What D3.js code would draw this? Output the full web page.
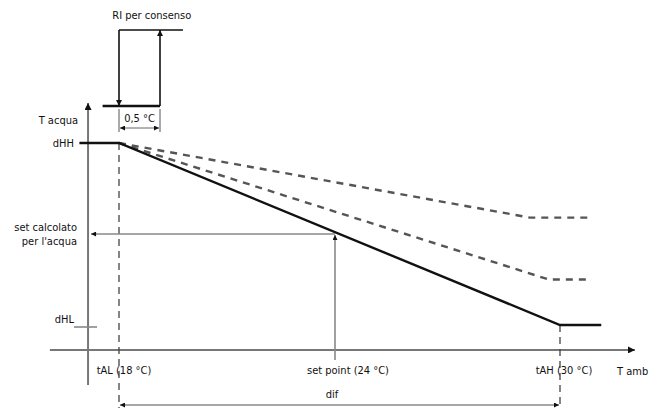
<!DOCTYPE html>
<html>
<head>
<meta charset="utf-8">
<script src="https://cdn.jsdelivr.net/npm/d3@7"></script>
<style>
body { margin: 0; background: #fff; }
text { font-family: "Liberation Sans Narrow", "DejaVu Sans Condensed", sans-serif; font-size: 11px; fill: #111; }
</style>
</head>
<body>
<svg id="chart" width="664" height="409"></svg>
<script>
// ambient temperature breakpoints (°C) and their labels
const ambTicks = [18, 24, 30]
const ambLabels = ["tAL (18 °C)", "set point (24 °C)", "tAH (30 °C)"]
// water setpoint levels: 1 = dHH, 0 = dHL
const waterTicks = [1, 0.5, 0]
const waterLabels = [["dHH"], ["set calcolato", "per l'acqua"], ["dHL"]]
// curves as [T amb, level]
const mainCurve = [[16.9, 1], [18, 1], [30, 0], [31.1, 0]]
const dashedHigh = [[18, 1], [29.2, 0.59], [30.8, 0.59]]
const dashedLow = [[18, 1], [29.7, 0.25], [30.85, 0.25]]
// relay "RI per consenso": [delta °C, state]
const relayOff = [[-0.2, 0], [0.5, 0]]
const relayOn = [[0, 1], [0.78, 1]]
const relayDown = [[0, 1], [0, 0]]
const relayUp = [[0.5, 0], [0.5, 1]]
const hystLabel = "0,5 °C"

const svg = d3.select("#chart")

const x = d3.scaleLinear().domain(ambTicks).range([119, 335, 560])
const y = d3.scaleLinear().domain([0, 1]).range([325, 143])
const hx = d3.scaleLinear().domain([0, 0.5]).range([119, 160])
const hy = d3.scaleLinear().domain([0, 1]).range([106, 30])

const defs = svg.append("defs")
function marker(id, w, l) {
    defs.append("marker")
        .attr("id", id)
        .attr("markerUnits", "userSpaceOnUse")
        .attr("viewBox", "0 0 10 10")
        .attr("refX", 10).attr("refY", 5)
        .attr("markerWidth", l).attr("markerHeight", w)
        .attr("orient", "auto-start-reverse")
        .append("path")
        .attr("d", "M0,0 L10,5 L0,10 z")
        .attr("fill", "#111")
}
marker("big", 7, 11)
marker("mid", 6, 9)
marker("small", 5, 7)

const line = d3.line().x(d => x(d[0])).y(d => y(d[1]))
const hline = d3.line().x(d => hx(d[0])).y(d => hy(d[1]))

// axes
svg.append("line")
    .attr("x1", x(16.08)).attr("x2", x(32))
    .attr("y1", y(-0.137)).attr("y2", y(-0.137))
    .attr("stroke", "#777").attr("stroke-width", 2)
    .attr("marker-end", "url(#big)")
svg.append("line")
    .attr("x1", x(17.14)).attr("x2", x(17.14))
    .attr("y1", y(-0.33)).attr("y2", y(1.22))
    .attr("stroke", "#777").attr("stroke-width", 2)
    .attr("marker-end", "url(#big)")

svg.append("text").attr("x", 78).attr("y", 124).attr("text-anchor", "end").text("T acqua")
svg.append("text").attr("x", 617).attr("y", 375).text("T amb")

// dashed verticals at tAL / tAH
svg.selectAll(".vdash")
    .data([[18, 1], [30, 0]])
    .join("line")
    .attr("x1", d => x(d[0])).attr("x2", d => x(d[0]))
    .attr("y1", d => y(d[1])).attr("y2", 408)
    .attr("stroke", "#444").attr("stroke-width", 1.3)
    .attr("stroke-dasharray", "7,5")

// dashed alternative curves
svg.selectAll(".alt")
    .data([dashedHigh, dashedLow])
    .join("path")
    .attr("d", line)
    .attr("fill", "none")
    .attr("stroke", "#555").attr("stroke-width", 2.4)
    .attr("stroke-dasharray", "7,6")

// set point projection
svg.append("line")
    .attr("x1", x(24)).attr("x2", x(24))
    .attr("y1", 360).attr("y2", y(0.5) + 1)
    .attr("stroke", "#888").attr("stroke-width", 1.6)
    .attr("marker-end", "url(#small)")
svg.append("line")
    .attr("x1", x(24)).attr("x2", x(17.14) + 3)
    .attr("y1", y(0.5)).attr("y2", y(0.5))
    .attr("stroke", "#888").attr("stroke-width", 1.6)
    .attr("marker-end", "url(#small)")

// main curve
svg.append("path")
    .attr("d", line(mainCurve))
    .attr("fill", "none")
    .attr("stroke", "#111").attr("stroke-width", 2.4)

// dHL tick
svg.append("line")
    .attr("x1", 74).attr("x2", 97)
    .attr("y1", y(0) + 2).attr("y2", y(0) + 2)
    .attr("stroke", "#888").attr("stroke-width", 1.6)

// y labels
waterTicks.forEach((v, i) => {
    const lines = waterLabels[i]
    const t = svg.append("text")
        .attr("text-anchor", "end")
        .attr("x", 74)
        .attr("y", y(v) + 4 - (lines.length - 1) * 7 - (v === 0 ? 6 : 0))
    lines.forEach((s, j) => {
        t.append("tspan").attr("x", i === 1 ? 77 : 74).attr("dy", j ? 14 : 0).text(s)
    })
})

// x labels
const labelShift = [5, 13, 4]
svg.selectAll(".xl")
    .data(ambTicks)
    .join("text")
    .attr("x", (d, i) => x(d) + labelShift[i])
    .attr("y", 374)
    .attr("text-anchor", "middle")
    .text((d, i) => ambLabels[i])

// dif dimension
svg.append("line")
    .attr("x1", x(18) + 1).attr("x2", x(30) - 1)
    .attr("y1", 405).attr("y2", 405)
    .attr("stroke", "#888").attr("stroke-width", 1.6)
    .attr("marker-start", "url(#small)")
    .attr("marker-end", "url(#small)")
svg.append("text").attr("x", x(24) - 3).attr("y", 398).attr("text-anchor", "middle").text("dif")

// relay hysteresis
svg.append("path").attr("d", hline(relayOff)).attr("fill", "none").attr("stroke", "#111").attr("stroke-width", 2.4)
svg.append("path").attr("d", hline(relayOn)).attr("fill", "none").attr("stroke", "#111").attr("stroke-width", 1.6)
svg.append("path").attr("d", hline(relayDown)).attr("fill", "none").attr("stroke", "#111").attr("stroke-width", 1.6)
    .attr("marker-end", "url(#mid)")
svg.append("path").attr("d", hline(relayUp)).attr("fill", "none").attr("stroke", "#111").attr("stroke-width", 1.6)
    .attr("marker-end", "url(#mid)")
svg.append("text").attr("x", hx(0.4)).attr("y", 19).attr("text-anchor", "middle").text("RI per consenso")

// 0,5 °C dimension
svg.selectAll(".ht")
    .data([0, 0.5])
    .join("line")
    .attr("x1", d => hx(d)).attr("x2", d => hx(d))
    .attr("y1", 109).attr("y2", 132)
    .attr("stroke", "#555").attr("stroke-width", 1)
svg.append("line")
    .attr("x1", hx(0) + 1).attr("x2", hx(0.5) - 1)
    .attr("y1", 128).attr("y2", 128)
    .attr("stroke", "#666").attr("stroke-width", 1)
    .attr("marker-start", "url(#small)")
    .attr("marker-end", "url(#small)")
svg.append("text").attr("x", hx(0.25)).attr("y", 122).attr("text-anchor", "middle").text(hystLabel)
</script>
</body>
</html>
